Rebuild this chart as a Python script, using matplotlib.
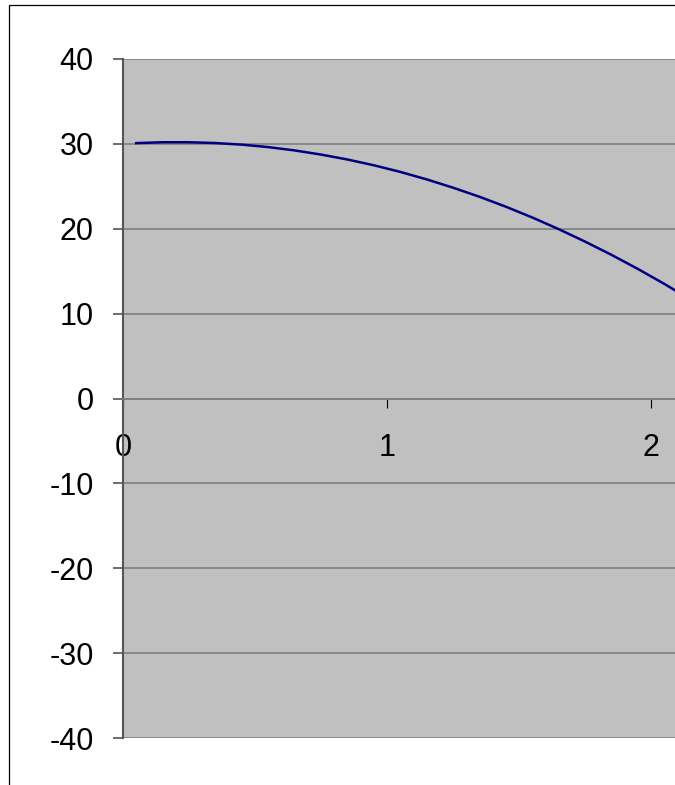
import matplotlib.pyplot as plt
from matplotlib.patches import Rectangle

# values
x_vals = [0.05, 0.15, 0.25, 0.35, 0.45, 0.55, 0.65, 0.75, 0.85, 0.95, 1.05,
          1.15, 1.25, 1.35, 1.45, 1.55, 1.65, 1.75, 1.85, 1.95, 2.05, 2.15]
y_vals = [30.09, 30.19, 30.19, 30.10, 29.91, 29.62, 29.23, 28.74, 28.16, 27.48, 26.70,
          25.82, 24.84, 23.77, 22.60, 21.33, 19.96, 18.49, 16.93, 15.27, 13.51, 11.65]
x_ticks = [0, 1, 2]
y_ticks = [-40, -30, -20, -10, 0, 10, 20, 30, 40]

plt.rcParams['font.family'] = ['Liberation Sans', 'DejaVu Sans']
plt.rcParams['axes.unicode_minus'] = False

W, H = 675, 785
fig = plt.figure(figsize=(W / 100, H / 100), dpi=100)

# chart area frame (right and bottom cut off)
fig.patches.append(Rectangle((9 / W, -0.1), 1.2, 1 - 5 / H + 0.1, transform=fig.transFigure,
                             fill=False, edgecolor='black', linewidth=0.9))

px_per_x = 264
xmax = 2.5
ax = fig.add_axes([123 / W, 47 / H, xmax * px_per_x / W, 679 / H])
ax.set_facecolor('#c0c0c0')
ax.set_xlim(0, xmax)
ax.set_ylim(-40, 40)

for v in y_ticks:
    ax.axhline(v, color='#7f7f7f', linewidth=1.2, zorder=1)

ax.plot(x_vals, y_vals, color='#000080', linewidth=1.8, zorder=3)

for s in ['top', 'right']:
    ax.spines[s].set_visible(False)
ax.spines['left'].set_color('#555555')
ax.spines['left'].set_linewidth(1.5)
ax.spines['bottom'].set_position(('data', 0))
ax.spines['bottom'].set_color('#7f7f7f')
ax.spines['bottom'].set_linewidth(1.2)

ax.set_yticks(y_ticks)
ax.set_yticklabels([str(v) for v in y_ticks])
ax.set_xticks(x_ticks)
ax.set_xticklabels([str(v) for v in x_ticks])
ax.tick_params(axis='y', direction='out', length=7, width=1.2, color='#555555',
               pad=14, labelsize=22)
ax.tick_params(axis='x', direction='out', length=6.5, width=0.8, color='black',
               pad=18, labelsize=22)

fig.savefig('out.png', dpi=100)
